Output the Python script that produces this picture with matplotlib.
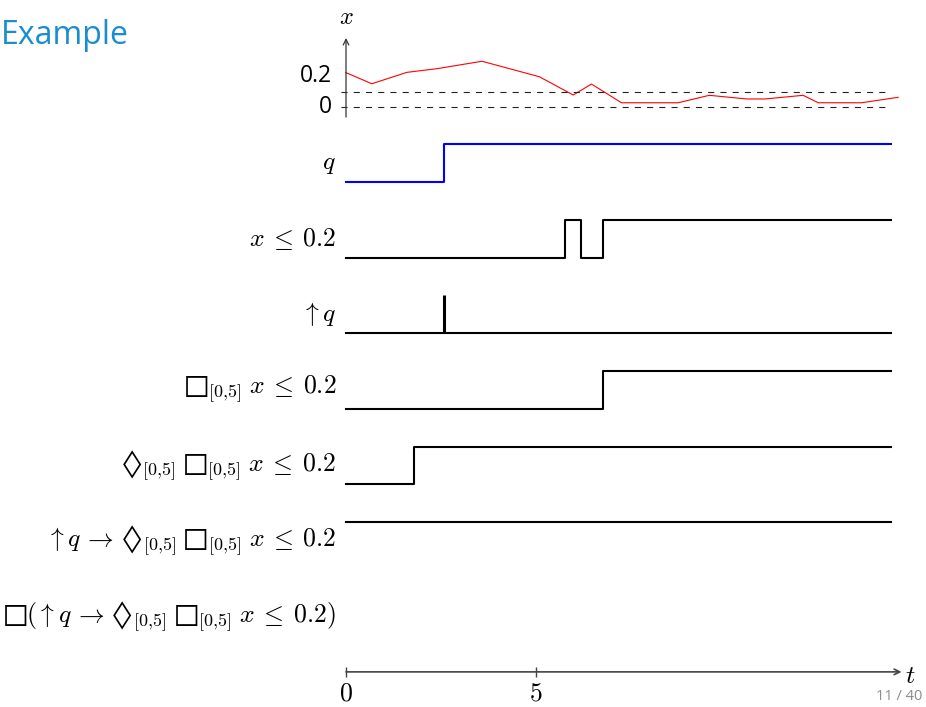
import matplotlib.pyplot as plt

plt.rcParams['mathtext.fontset'] = 'cm'

# real valued signal x(t)
x_t = [0, 0.68, 1.60, 2.39, 3.58, 5.09, 5.98, 6.46, 7.25, 8.74, 9.56,
       10.54, 11.03, 12.03, 12.43, 13.57, 14.53]
x_val = [0.224, 0.151, 0.226, 0.250, 0.299, 0.197, 0.077, 0.149, 0.026,
         0.026, 0.075, 0.051, 0.051, 0.075, 0.026, 0.026, 0.062]
x_levels = [0, 0.1]
x_ticks = [0, 0.2]
x_ticklabels = ['0', '0.2']

t_end = 14.35
t_ticks = [0, 5]

# boolean signals: change times and values
q_t = [0, 2.59, t_end]
q_v = [0, 1, 1]
le_t = [0, 5.76, 6.18, 6.77, t_end]
le_v = [0, 1, 0, 1, 1]
rise_t = [0, t_end]
rise_v = [0, 0]
rise_at = [2.59]          # instants where q rises
box_t = [0, 6.77, t_end]
box_v = [0, 1, 1]
dbox_t = [0, 1.79, t_end]
dbox_v = [0, 1, 1]
impl_t = [0, t_end]
impl_v = [1, 1]
alw_t = []
alw_v = []

B = r'□_{[0{,}5]}\;'
D = r'◊_{[0{,}5]}\;'
LE = r'x \:\leq\: 0.2'
labels = [
    r'$q$',
    r'$' + LE + r'$',
    r'$\uparrow q$',
    r'$' + B + LE + r'$',
    r'$' + D + B + LE + r'$',
    r'$\uparrow q \,\rightarrow\, ' + D + B + LE + r'$',
    r'$□(\uparrow q \,\rightarrow\, ' + D + B + LE + r')$',
]
sig_t = [q_t, le_t, rise_t, box_t, dbox_t, impl_t, alw_t]
sig_v = [q_v, le_v, rise_v, box_v, dbox_v, impl_v, alw_v]
colors = ['#0000ff', 'k', 'k', 'k', 'k', 'k', 'k']

fig = plt.figure(figsize=(9.26, 7.07), dpi=100)
xl = (-346 / 38, (926 - 346) / 38)

# top plot of x
ax_x = fig.add_axes([0, 0, 1, 1])
ax_x.set_xlim(xl)
ax_x.set_ylim(-3.949, 0.702)
ax_x.axis('off')
ax_x.plot(x_t, x_val, color='#ff0000', lw=0.8)
ax_x.hlines(x_levels, -0.12, t_end, colors='#222222', lw=0.8,
            linestyles=(0, (5.5, 5.5)))
ax_x.annotate('', xy=(0, 0.452), xytext=(0, -0.068),
              arrowprops=dict(arrowstyle='->', lw=0.9, color='#333333',
                              shrinkA=0, shrinkB=0))
ax_x.text(0, 0.59, '$x$', ha='center', va='center', fontsize=17.5)
for v, lab in zip(x_ticks, x_ticklabels):
    ax_x.text(-0.37, v, lab, ha='right', va='center', fontsize=16.5,
              family='Open Sans')

# boolean signals
ax = fig.add_axes([0, 0, 1, 1])
ax.set_xlim(xl)
ax.set_ylim(-13.889, 4.815)
ax.axis('off')
ax.patch.set_alpha(0)
for i, (lab, ts, vs, c) in enumerate(zip(labels, sig_t, sig_v, colors)):
    base = -2 * i
    if ts:
        ax.plot(ts, [base + v for v in vs], drawstyle='steps-post',
                color=c, lw=1.5)
    ax.text(-0.26, base + 0.5, lab, ha='right', va='center', fontsize=18.5)
ax.vlines(rise_at, -4, -3, colors='k', lw=2.2)

# time axis
y_ax = -12.96
ax.annotate('', xy=(14.62, y_ax), xytext=(0, y_ax),
            arrowprops=dict(arrowstyle='->', lw=1.2, color='#444444',
                            shrinkA=0, shrinkB=0))
ax.plot(t_ticks, [y_ax] * len(t_ticks), ls='none', marker='|', ms=7,
        mew=1, color='#444444')
for tt in t_ticks:
    ax.text(tt, y_ax - 0.58, '$%d$' % tt, ha='center', va='center',
            fontsize=18.5)
ax.text(14.86, y_ax - 0.12, '$t$', ha='center', va='center', fontsize=18.5)

fig.text(0.001, 1 - 35 / 707, 'Example', ha='left', va='center',
         fontsize=23, color='#1a8cd0', family='Open Sans')
fig.text(922 / 926, 1 - 697 / 707, '11 / 40', ha='right', va='center',
         fontsize=10.5, color='#8c8c8c', family='Open Sans')

plt.savefig('out.png', dpi=100)
